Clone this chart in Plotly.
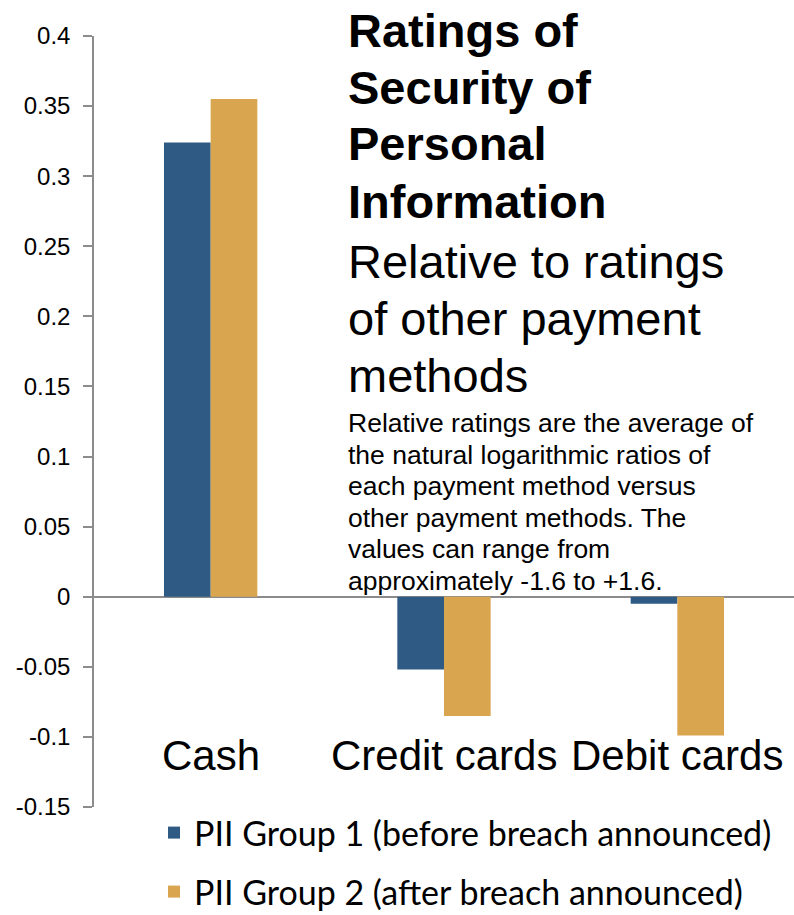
import plotly.graph_objects as go

# Relative security ratings by payment method
categories = ["Cash", "Credit cards", "Debit cards"]
group1 = [0.324, -0.052, -0.005]   # PII Group 1 (before breach announced)
group2 = [0.355, -0.085, -0.099]   # PII Group 2 (after breach announced)
series_names = ["PII Group 1 (before breach announced)",
                "PII Group 2 (after breach announced)"]
y_ticks = [0.4, 0.35, 0.3, 0.25, 0.2, 0.15, 0.1, 0.05, 0, -0.05, -0.1, -0.15]
y_tick_text = ["0.4", "0.35", "0.3", "0.25", "0.2", "0.15", "0.1", "0.05",
               "0", "-0.05", "-0.1", "-0.15"]

title_bold = ["Ratings of", "Security of", "Personal", "Information"]
title_sub = ["Relative to ratings", "of other payment", "methods"]
note_lines = ["Relative ratings are the average of",
              "the natural logarithmic ratios of",
              "each payment method versus",
              "other payment methods. The",
              "values can range from",
              "approximately -1.6 to +1.6."]

W, H = 794, 915
M_L, M_R, M_T, M_B = 94, 0, 36, 108
BLUE = "#2F5A84"
GOLD = "#D9A54E"
AXIS = "#8C8C8C"
ARIAL = "Liberation Sans, Arial, sans-serif"
LEG_FONT = "Lato, Carlito, Calibri, sans-serif"


def py(pix):
    """Convert a pixel row (from top of page) to paper y."""
    return (H - M_B - pix) / (H - M_T - M_B)


def px(pix):
    """Convert a pixel column (from left of page) to paper x."""
    return (pix - M_L) / (W - M_L - M_R)


fig = go.Figure()
fig.add_trace(go.Bar(x=categories, y=group1, name=series_names[0],
                     marker=dict(color=BLUE, line=dict(width=0)),
                     legend="legend"))
fig.add_trace(go.Bar(x=categories, y=group2, name=series_names[1],
                     marker=dict(color=GOLD, line=dict(width=0)),
                     legend="legend2"))

annotations = []
# category labels drawn inside the plot, below the bars
for c in categories:
    annotations.append(dict(x=c, y=-0.1136, xref="x", yref="y", text=c,
                            showarrow=False, xanchor="center", yanchor="middle",
                            font=dict(family=ARIAL, size=42, color="black")))

# title block: bold heading, subtitle and explanatory note
x_left = px(346)
for i, line in enumerate(title_bold):
    annotations.append(dict(x=x_left, y=py(30 + i * 57), xref="paper", yref="paper",
                            text="<b>%s</b>" % line, showarrow=False,
                            xanchor="left", yanchor="middle",
                            font=dict(family=ARIAL, size=47, color="black")))
for i, line in enumerate(title_sub):
    annotations.append(dict(x=x_left, y=py(261 + i * 57), xref="paper", yref="paper",
                            text=line, showarrow=False,
                            xanchor="left", yanchor="middle",
                            font=dict(family=ARIAL, size=47, color="black")))
for i, line in enumerate(note_lines):
    annotations.append(dict(x=x_left, y=py(423 + i * 31.5), xref="paper", yref="paper",
                            text=line, showarrow=False,
                            xanchor="left", yanchor="middle",
                            font=dict(family=ARIAL, size=26.5, color="black")))

fig.update_layout(
    width=W, height=H,
    margin=dict(l=M_L, r=M_R, t=M_T, b=M_B, pad=0, autoexpand=False),
    paper_bgcolor="white", plot_bgcolor="white",
    barmode="group", bargap=0.6, bargroupgap=0,
    showlegend=True,
    legend=dict(x=px(154), y=py(833), xanchor="left", yanchor="middle",
                font=dict(family=LEG_FONT, size=34, color="black"),
                bgcolor="rgba(0,0,0,0)", borderwidth=0),
    legend2=dict(x=px(154), y=py(892), xanchor="left", yanchor="middle",
                 font=dict(family=LEG_FONT, size=34, color="black"),
                 bgcolor="rgba(0,0,0,0)", borderwidth=0),
    xaxis=dict(showticklabels=False, showline=False, showgrid=False,
               zeroline=False, ticks=""),
    yaxis=dict(range=[-0.15, 0.4], tickvals=y_ticks, ticktext=y_tick_text,
               showgrid=False, showline=True, linecolor=AXIS, linewidth=1.5,
               ticks="outside", ticklen=9, tickcolor=AXIS, tickwidth=1.5,
               ticklabelstandoff=8,
               zeroline=True, zerolinecolor=AXIS, zerolinewidth=1.5,
               tickfont=dict(family=ARIAL, size=24, color="black")),
    annotations=annotations,
)

fig.write_html("out.html", config={"displayModeBar": False})
